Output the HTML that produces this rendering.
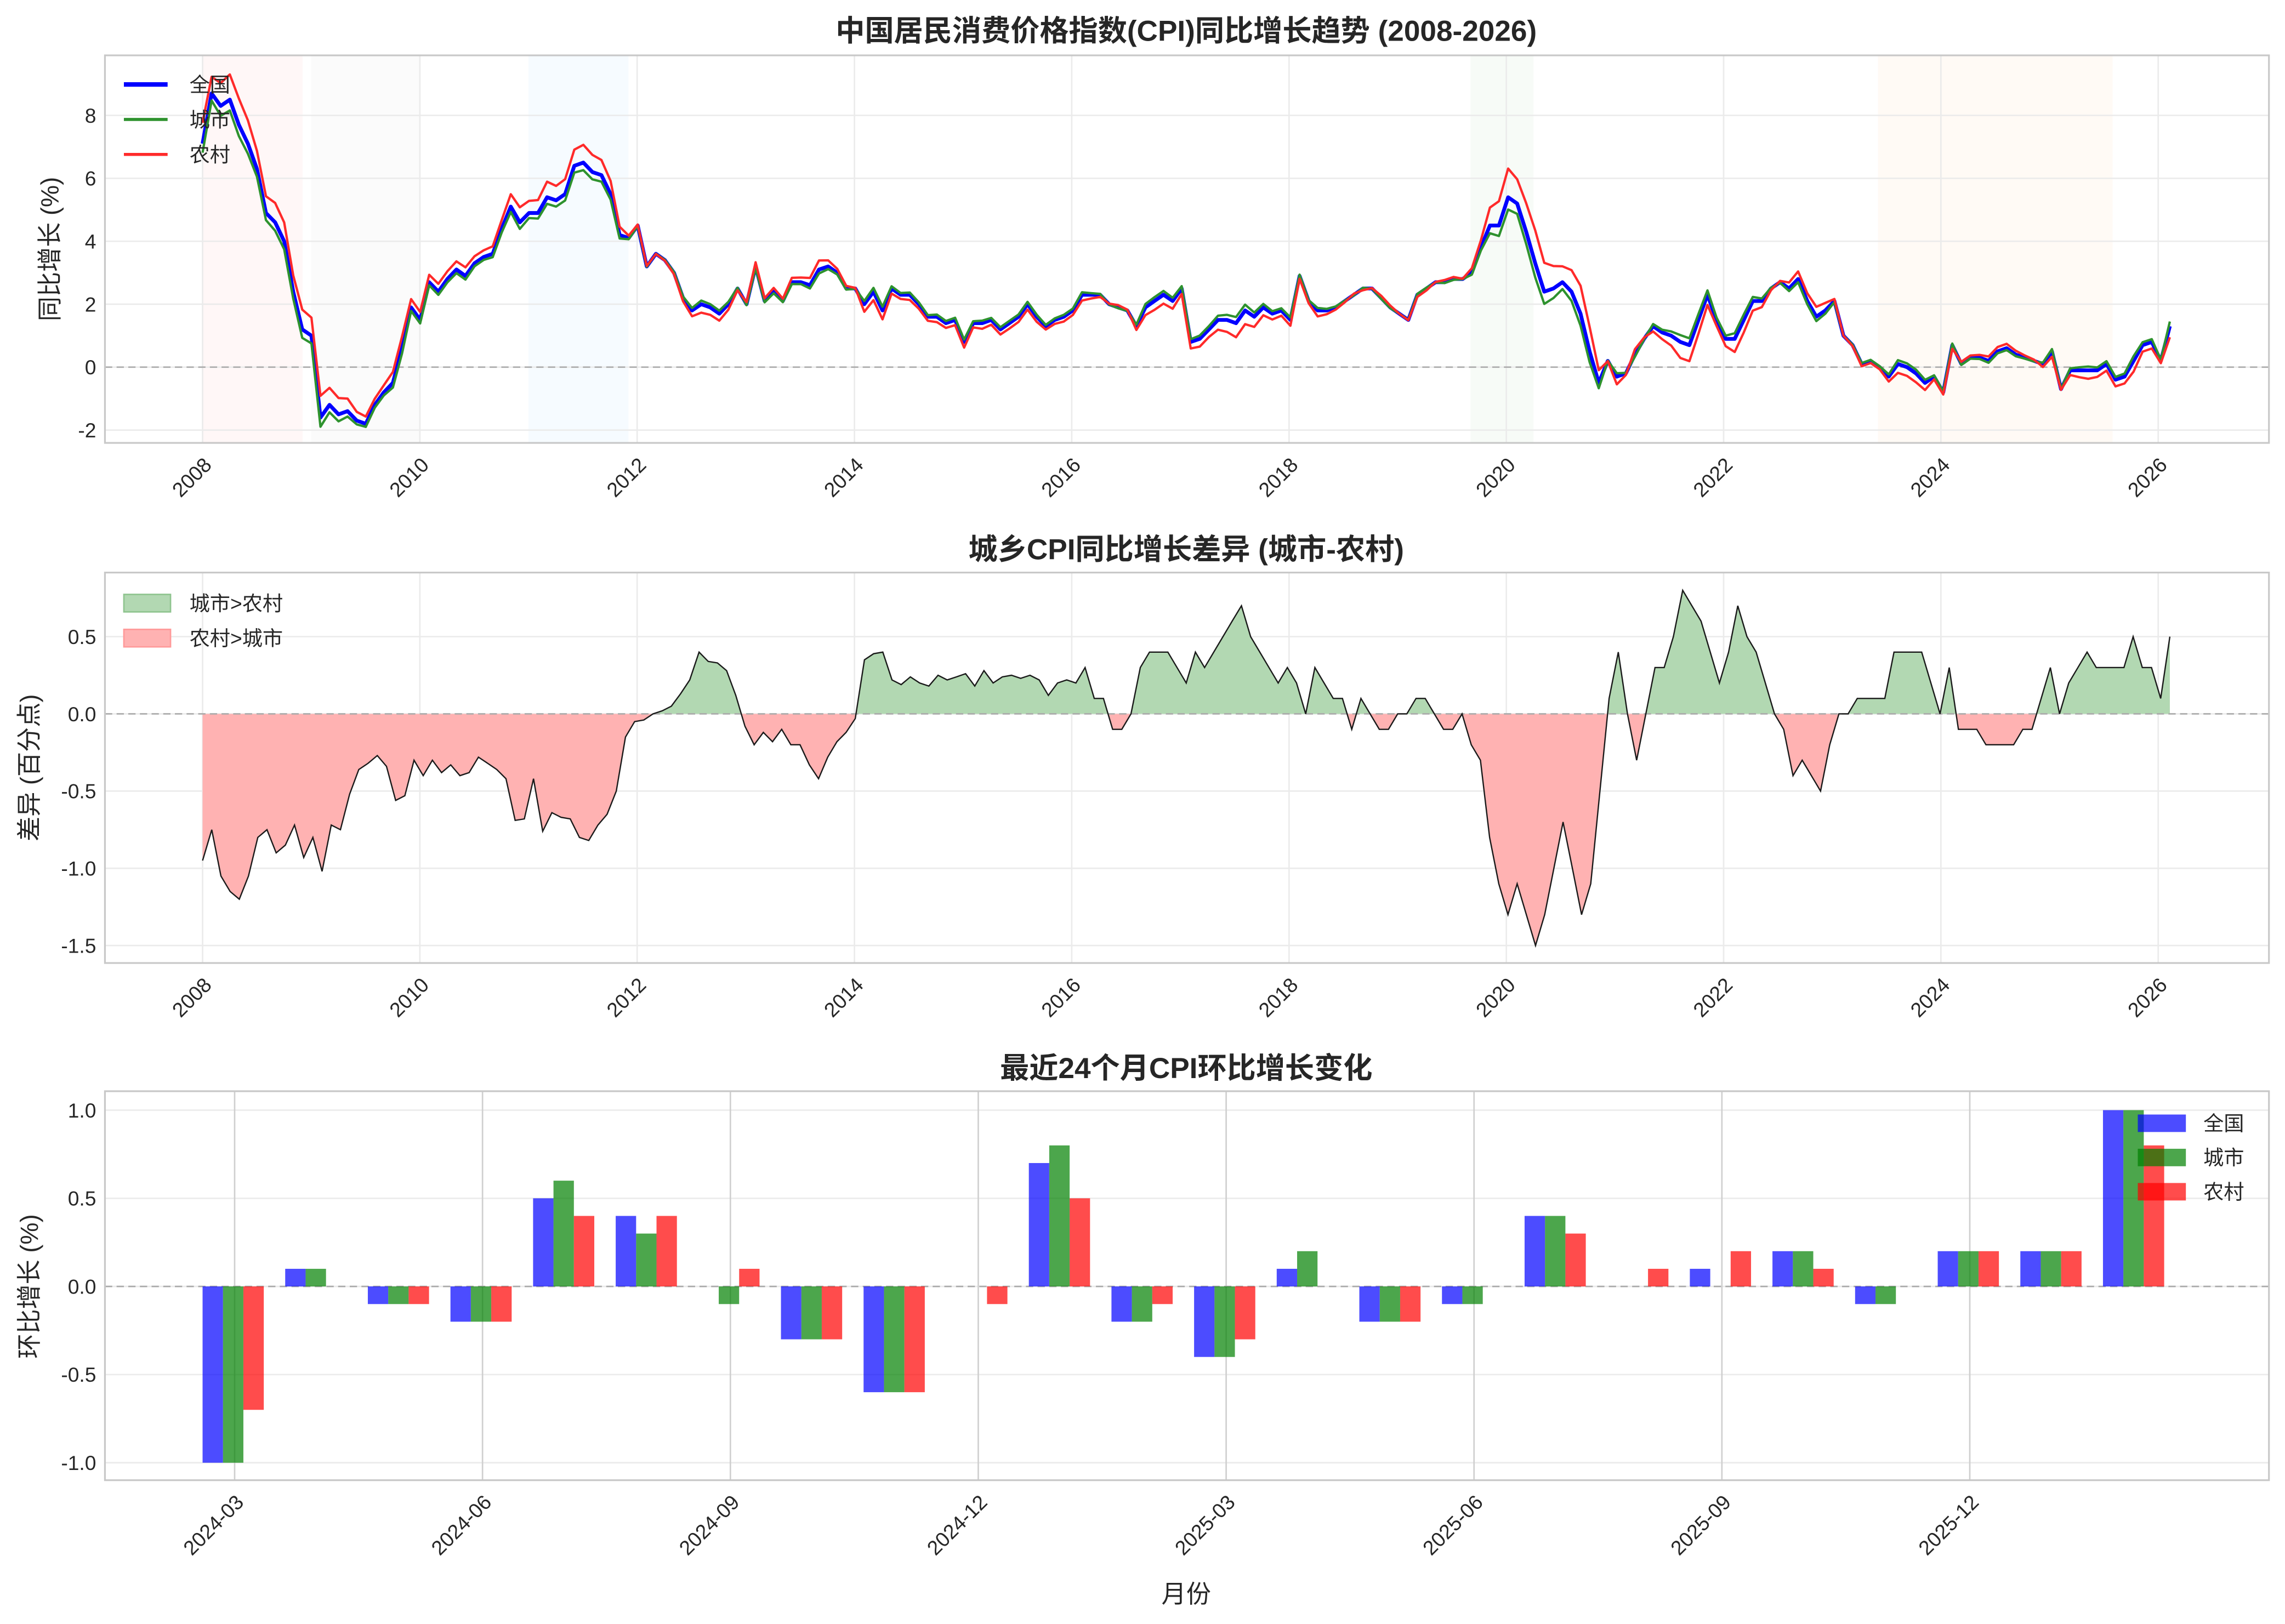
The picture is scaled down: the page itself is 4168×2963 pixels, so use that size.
<!DOCTYPE html>
<html><head><meta charset="utf-8"><style>
html,body{margin:0;padding:0;background:#fff;}
svg{display:block;}
text{font-family:"Liberation Sans","Noto Sans CJK SC",sans-serif;fill:#262626;}
</style></head><body>
<svg id="s" width="4168" height="2963" viewBox="0 0 1568 1114.7" xmlns="http://www.w3.org/2000/svg"></svg>
<script>
const S=document.getElementById('s');let h='';
const nat=[7.1,8.7,8.3,8.5,7.7,7.1,6.3,4.9,4.6,4.0,2.4,1.2,1.0,-1.6,-1.2,-1.5,-1.4,-1.7,-1.8,-1.2,-0.8,-0.5,0.6,1.9,1.5,2.7,2.4,2.8,3.1,2.9,3.3,3.5,3.6,4.4,5.1,4.6,4.9,4.9,5.4,5.3,5.5,6.4,6.5,6.2,6.1,5.5,4.2,4.1,4.5,3.2,3.6,3.4,3.0,2.2,1.8,2.0,1.9,1.7,2.0,2.5,2.0,3.2,2.1,2.4,2.1,2.7,2.7,2.6,3.1,3.2,3.0,2.5,2.5,2.0,2.4,1.8,2.5,2.3,2.3,2.0,1.6,1.6,1.4,1.5,0.8,1.4,1.4,1.5,1.2,1.4,1.6,2.0,1.6,1.3,1.5,1.6,1.8,2.3,2.3,2.3,2.0,1.9,1.8,1.3,1.9,2.1,2.3,2.1,2.5,0.8,0.9,1.2,1.5,1.5,1.4,1.8,1.6,1.9,1.7,1.8,1.5,2.9,2.1,1.8,1.8,1.9,2.1,2.3,2.5,2.5,2.2,1.9,1.7,1.5,2.3,2.5,2.7,2.7,2.8,2.8,3.0,3.8,4.5,4.5,5.4,5.2,4.3,3.3,2.4,2.5,2.7,2.4,1.7,0.5,-0.5,0.2,-0.3,-0.2,0.4,0.9,1.3,1.1,1.0,0.8,0.7,1.5,2.3,1.5,0.9,0.9,1.5,2.1,2.1,2.5,2.7,2.5,2.8,2.1,1.6,1.8,2.1,1.0,0.7,0.1,0.2,0.0,-0.3,0.1,0.0,-0.2,-0.5,-0.3,-0.8,0.7,0.1,0.3,0.3,0.2,0.5,0.6,0.4,0.3,0.2,0.1,0.5,-0.7,-0.1,-0.1,-0.1,-0.1,0.1,-0.4,-0.3,0.2,0.7,0.8,0.2,1.3];
const dif=[-0.95,-0.75,-1.05,-1.15,-1.2,-1.05,-0.8,-0.75,-0.9,-0.85,-0.72,-0.93,-0.8,-1.02,-0.72,-0.75,-0.52,-0.36,-0.32,-0.27,-0.34,-0.56,-0.53,-0.3,-0.4,-0.3,-0.38,-0.33,-0.4,-0.38,-0.28,-0.32,-0.36,-0.42,-0.69,-0.68,-0.42,-0.76,-0.64,-0.67,-0.68,-0.8,-0.82,-0.72,-0.65,-0.5,-0.15,-0.05,-0.04,0,0.02,0.05,0.13,0.22,0.4,0.34,0.33,0.28,0.12,-0.08,-0.2,-0.12,-0.18,-0.1,-0.2,-0.2,-0.33,-0.42,-0.28,-0.18,-0.12,-0.03,0.35,0.39,0.4,0.22,0.19,0.24,0.2,0.18,0.25,0.22,0.24,0.26,0.18,0.28,0.2,0.24,0.25,0.23,0.25,0.22,0.12,0.2,0.22,0.2,0.3,0.1,0.1,-0.1,-0.1,0,0.3,0.4,0.4,0.4,0.3,0.2,0.4,0.3,0.4,0.5,0.6,0.7,0.5,0.4,0.3,0.2,0.3,0.2,0,0.3,0.2,0.1,0.1,-0.1,0.1,0,-0.1,-0.1,0,0,0.1,0.1,0,-0.1,-0.1,0,-0.2,-0.3,-0.8,-1.1,-1.3,-1.1,-1.3,-1.5,-1.3,-1.0,-0.7,-1.0,-1.3,-1.1,-0.5,0.1,0.4,0,-0.3,0,0.3,0.3,0.5,0.8,0.7,0.6,0.4,0.2,0.4,0.7,0.5,0.4,0.2,0,-0.1,-0.4,-0.3,-0.4,-0.5,-0.2,0,0,0.1,0.1,0.1,0.1,0.4,0.4,0.4,0.4,0.2,0,0.3,-0.1,-0.1,-0.1,-0.2,-0.2,-0.2,-0.2,-0.1,-0.1,0.1,0.3,0,0.2,0.3,0.4,0.3,0.3,0.3,0.3,0.5,0.3,0.3,0.1,0.5];
const X0=139,X1=1481,YR=(X1-X0)/18;
function yx(y){return X0+(y-2008)*YR;}
function difAt(f){const p=f*(dif.length-1);const i=Math.min(Math.floor(p),dif.length-2);const t=p-i;return dif[i]*(1-t)+dif[i+1]*t;}
function axbox(y0,y1){h+=`<rect x="72" y="${y0}" width="1485" height="${y1-y0}" fill="none" stroke="#c8c8c8" stroke-width="1.2"/>`;}
function xyears(y0,y1){for(let y=2008;y<=2026;y+=2){const x=yx(y);h+=`<line x1="${x}" y1="${y0}" x2="${x}" y2="${y1}" stroke="#ebebeb"/>`;h+=`<text x="${x+7}" y="${y1+16}" font-size="14" text-anchor="end" transform="rotate(-45 ${x+7} ${y1+16})">${y}</text>`;}}
function hgrid(vals,f,lab){vals.forEach(v=>{const y=f(v);h+=`<line x1="72" y1="${y}" x2="1557" y2="${y}" stroke="#ebebeb"/>`;h+=`<text x="66" y="${y+5}" font-size="14" text-anchor="end">${lab(v)}</text>`;});}
function zero(y){h+=`<line x1="72" y1="${y}" x2="1557" y2="${y}" stroke="#aaa" stroke-dasharray="5,3"/>`;}
const p1=v=>252-v*21.6;
[[2008,2008.92,'#ff000008'],[2009,2010,'#80808008'],[2011,2011.92,'#1e90ff0a'],[2019.67,2020.25,'#00800008'],[2023.42,2025.58,'#ff8c000a']].forEach(r=>{h+=`<rect x="${yx(r[0])}" y="38" width="${yx(r[1])-yx(r[0])}" height="266" fill="${r[2]}"/>`;});
hgrid([-2,0,2,4,6,8],p1,v=>v<0?'-'+(-v):v);xyears(38,304);zero(p1(0));
function line(vals,col,w){let d='';vals.forEach((v,i)=>{const x=X0+i*(1489-X0)/(vals.length-1);d+=(i?'L':'M')+x.toFixed(1)+','+p1(v).toFixed(1);});h+=`<path d="${d}" fill="none" stroke="${col}" stroke-width="${w}" stroke-linejoin="round"/>`;}
const urb=nat.map((v,i)=>v+0.3*difAt(i/(nat.length-1)));
const rur=nat.map((v,i)=>v-0.7*difAt(i/(nat.length-1)));
line(nat,'#0000ff',2.6);line(urb,'#2e922e',1.6);line(rur,'#ff2a2a',1.6);
axbox(38,304);
h+=`<text x="814" y="28" font-size="20" font-weight="bold" text-anchor="middle">中国居民消费价格指数(CPI)同比增长趋势 (2008-2026)</text>`;
h+=`<text x="40" y="171" font-size="17" text-anchor="middle" transform="rotate(-90 40 171)">同比增长 (%)</text>`;
[['全国','#0000ff',2.6],['城市','#2e922e',1.6],['农村','#ff2a2a',1.6]].forEach((e,i)=>{const y=58+i*24;h+=`<line x1="85" y1="${y}" x2="115" y2="${y}" stroke="${e[1]}" stroke-width="${e[2]+0.5}"/><text x="130" y="${y+5}" font-size="14">${e[0]}</text>`;});
const p2=v=>490-v*106;
hgrid([-1.5,-1,-0.5,0,0.5],p2,v=>v<0?'-'+(-v).toFixed(1):v.toFixed(1));xyears(393,661);
let d2='',pts=[];dif.forEach((v,i)=>{const x=X0+i*(1489-X0)/(dif.length-1);pts.push([x,p2(v)]);});
pts.forEach((p,i)=>{d2+=(i?'L':'M')+p[0].toFixed(1)+','+p[1].toFixed(1);});
const area=d2+`L${pts[pts.length-1][0]},490L${X0},490Z`;
h+=`<clipPath id="ca"><rect x="0" y="0" width="1568" height="490"/></clipPath><clipPath id="cb"><rect x="0" y="490" width="1568" height="400"/></clipPath>`;
h+=`<path d="${area}" fill="#b2d8b2" clip-path="url(#ca)"/><path d="${area}" fill="#ffb2b2" clip-path="url(#cb)"/>`;
zero(490);
h+=`<path d="${d2}" fill="none" stroke="#1a1a1a" stroke-width="0.9"/>`;
axbox(393,661);
h+=`<text x="814" y="384" font-size="20" font-weight="bold" text-anchor="middle">城乡CPI同比增长差异 (城市-农村)</text>`;
h+=`<text x="26" y="527" font-size="17" text-anchor="middle" transform="rotate(-90 26 527)">差异 (百分点)</text>`;
h+=`<rect x="85" y="408" width="32" height="12" fill="#b2d8b2" stroke="#8fc48f"/><text x="130" y="419" font-size="14">城市&gt;农村</text>`;
h+=`<rect x="85" y="432" width="32" height="12" fill="#ffb2b2" stroke="#ff9a9a"/><text x="130" y="443" font-size="14">农村&gt;城市</text>`;
const p3=v=>883-v*121;
hgrid([-1,-0.5,0,0.5,1],p3,v=>v<0?'-'+(-v).toFixed(1):v.toFixed(1));
const labs=['2024-03','2024-06','2024-09','2024-12','2025-03','2025-06','2025-09','2025-12'];
labs.forEach((l,k)=>{const x=161+k*3*56.7;h+=`<line x1="${x}" y1="749" x2="${x}" y2="1016" stroke="#cfcfcf"/><text x="${x+7}" y="${1032}" font-size="14" text-anchor="end" transform="rotate(-45 ${x+7} 1032)">${l}</text>`;});
zero(883);
const bars=[[-1,-1,-0.7],[0.1,0.1,0],[-0.1,-0.1,-0.1],[-0.2,-0.2,-0.2],[0.5,0.6,0.4],[0.4,0.3,0.4],[0,-0.1,0.1],[-0.3,-0.3,-0.3],[-0.6,-0.6,-0.6],[0,0,-0.1],[0.7,0.8,0.5],[-0.2,-0.2,-0.1],[-0.4,-0.4,-0.3],[0.1,0.2,0],[-0.2,-0.2,-0.2],[-0.1,-0.1,0],[0.4,0.4,0.3],[0,0,0.1],[0.1,0,0.2],[0.2,0.2,0.1],[-0.1,-0.1,0],[0.2,0.2,0.2],[0.2,0.2,0.2],[1,1,0.8]];
const bc=['rgba(0,0,255,0.7)','rgba(0,128,0,0.7)','rgba(255,0,0,0.7)'];
bars.forEach((g,i)=>{const c=160+i*56.7;g.forEach((v,j)=>{if(!v)return;const x=c-21+j*14;const y=Math.min(p3(v),883);h+=`<rect x="${x}" y="${y}" width="14" height="${Math.abs(v)*121}" fill="${bc[j]}"/>`;});});
axbox(749,1016);
h+=`<text x="814" y="740" font-size="20" font-weight="bold" text-anchor="middle">最近24个月CPI环比增长变化</text>`;
h+=`<text x="26" y="883" font-size="17" text-anchor="middle" transform="rotate(-90 26 883)">环比增长 (%)</text>`;
h+=`<text x="814" y="1100" font-size="17" text-anchor="middle">月份</text>`;
['全国','城市','农村'].forEach((t,j)=>{const y=765+j*23.5;h+=`<rect x="1467" y="${y}" width="33" height="12" fill="${bc[j]}"/><text x="1512" y="${y+11}" font-size="14">${t}</text>`;});
S.innerHTML=h;
</script>
</body></html>
